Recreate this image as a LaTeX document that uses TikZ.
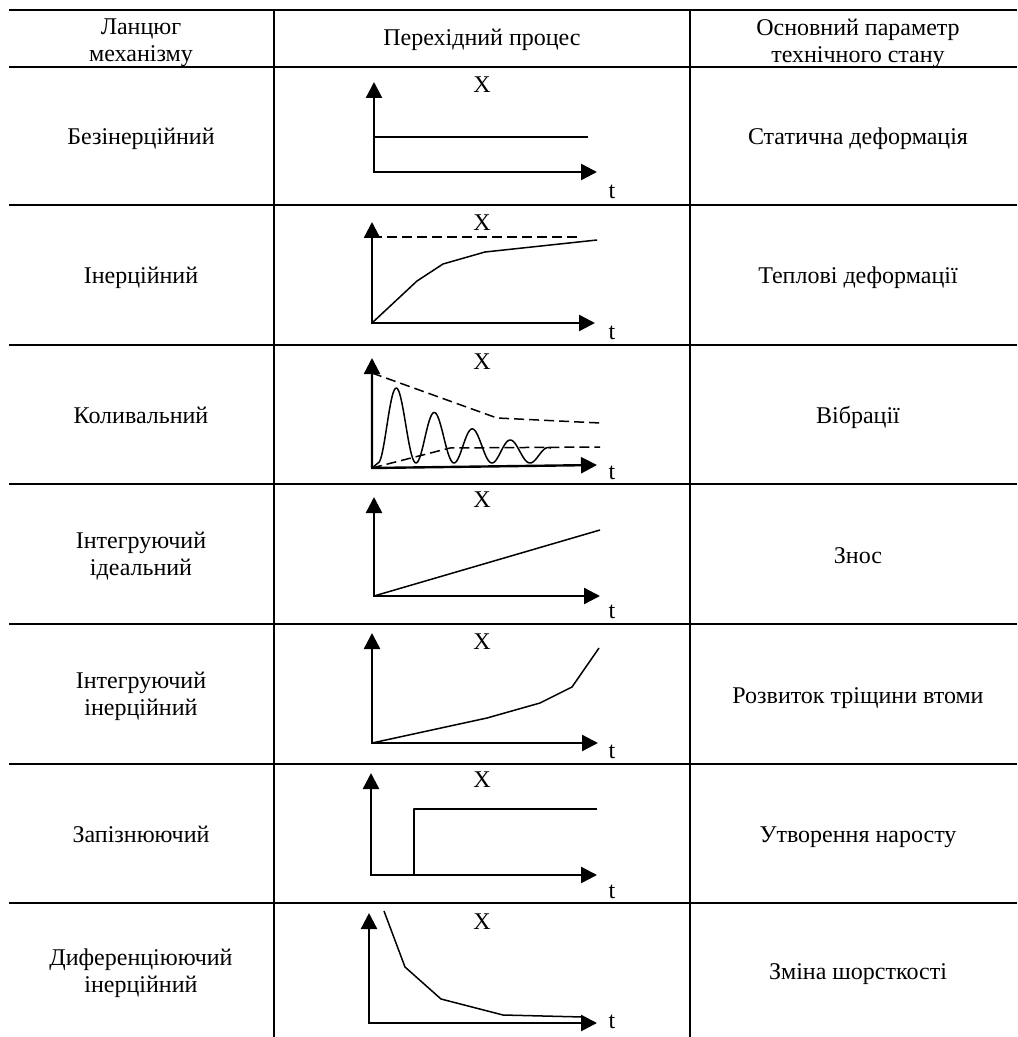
\documentclass[tikz,border=0pt]{standalone}
\usepackage{fontspec}
\setmainfont{Liberation Serif}
\usetikzlibrary{arrows.meta}

\begin{document}
\begin{tikzpicture}[x=0.5pt, y=-0.5pt,
		  % Define the style of the table rules
		  rule/.style={line width=1.2pt},
		  % Define the style of the axes
		  axis/.style={{Triangle[length=8pt,width=8pt]}-{Triangle[length=8pt,width=8pt]}, line width=1.2pt},
		  % Define the style of the process curves
		  curve/.style={line width=0.75pt, line join=round},
		  % Define the style of the dashed limits
		  limit/.style={line width=0.75pt, dash pattern=on 5pt off 2.5pt},
		  % Define the style of the table texts
		  cell/.style={align=center, inner sep=0pt, font=\fontsize{12pt}{13.5pt}\selectfont},
		  % Define the style of the one-line table texts
		  oneline/.style={cell, text height=8pt, text depth=0pt},
		  % Define the style of the axis labels
		  axlabel/.style={inner sep=0pt, font=\fontsize{12pt}{13.5pt}\selectfont}
		  ]
		  \useasboundingbox (0,0) rectangle (1017,1037);

		  % Table rules
		  \foreach \ry in {10, 67, 205, 345, 484, 624, 764, 903} {
		    \draw[rule] (9,\ry) -- (1017,\ry);
		  }
		  \foreach \rx in {274, 690} {
		    \draw[rule] (\rx,10) -- (\rx,1037);
		  }

		  % Header
		  \node[cell] (head1) at (141,43) {Ланцюг\\механізму};
		  \node[oneline] (head2) at (482,38) {Перехідний процес};
		  \node[cell] (head3) at (858,43) {Основний параметр\\технічного стану};

		  % Chains and parameters
		  \foreach \r/\yc/\chain in {1/137/Безінерційний, 2/276/Інерційний, 3/415/Коливальний, 6/834/Запізнюючий} {
		    \node[oneline] (chain\r) at (141,\yc) {\chain};
		  }
		  \foreach \r/\yc/\chain in {4/556/{Інтегруючий\\ідеальний}, 5/696/{Інтегруючий\\інерційний}, 7/973/{Диференціюючий\\інерційний}} {
		    \node[cell] (chain\r) at (141,\yc) {\chain};
		  }
		  \foreach \r/\yc/\param in {1/137/Статична деформація, 2/276/Теплові деформації, 3/415/Вібрації, 4/555/Знос, 5/695/Розвиток тріщини втоми, 6/834/Утворення наросту, 7/971/Зміна шорсткості} {
		    \node[oneline] (param\r) at (858,\yc) {\param};
		  }

		  % Axes of the transient processes
		  \foreach \r/\ox/\oy/\yt/\xt/\xy/\lX/\lt in {1/374/172/82/597/172/85/192, 2/372/323/222/595/323/223/333, 3/372/468/358/597/465/362/473, 4/374/596/497/600/596/500/612, 5/372/743/633/598/743/642/752, 6/371/875/773/597/875/780/892, 7/369/1023/913/597/1023/922/1022} {
		    \coordinate (o\r) at (\ox,\oy);
		    \coordinate (ytip\r) at (\ox,\yt);
		    \coordinate (xtip\r) at (\xt,\xy);
		    \draw[axis] (ytip\r) -- (o\r) -- (xtip\r);
		    \node[axlabel] (xl\r) at (482,\lX) {X};
		    \node[axlabel] (tl\r) at (612,\lt) {t};
		  }

		  % Curves
		  \draw[curve] (374,137) -- (588,137);
		  \draw[limit] (372,237) -- (577,237);
		  \draw[curve] (o2) -- (417,281) -- (443,264) -- (485,252) -- (597,240);
		  \draw[limit] (372,373) -- (497,418) -- (600,423);
		  \draw[limit] (o3) -- (450,448) -- (600,447);
		  \draw[curve] (o3) -- plot[domain=0:4.55, samples=150, smooth] ({378+38*\x}, {463-91*exp(-0.394*\x)*(1-cos(360*\x))/2});
		  \draw[curve] (o4) -- (600,530);
		  \draw[curve] (o5) -- (487,718) -- (540,703) -- (572,687) -- (599,648);
		  \draw[curve] (414,875) -- (414,809) -- (597,809);
		  \draw[curve] (384,911) -- (405,967) -- (441,999) -- (503,1015) -- (583,1017);
\end{tikzpicture}
\end{document}
